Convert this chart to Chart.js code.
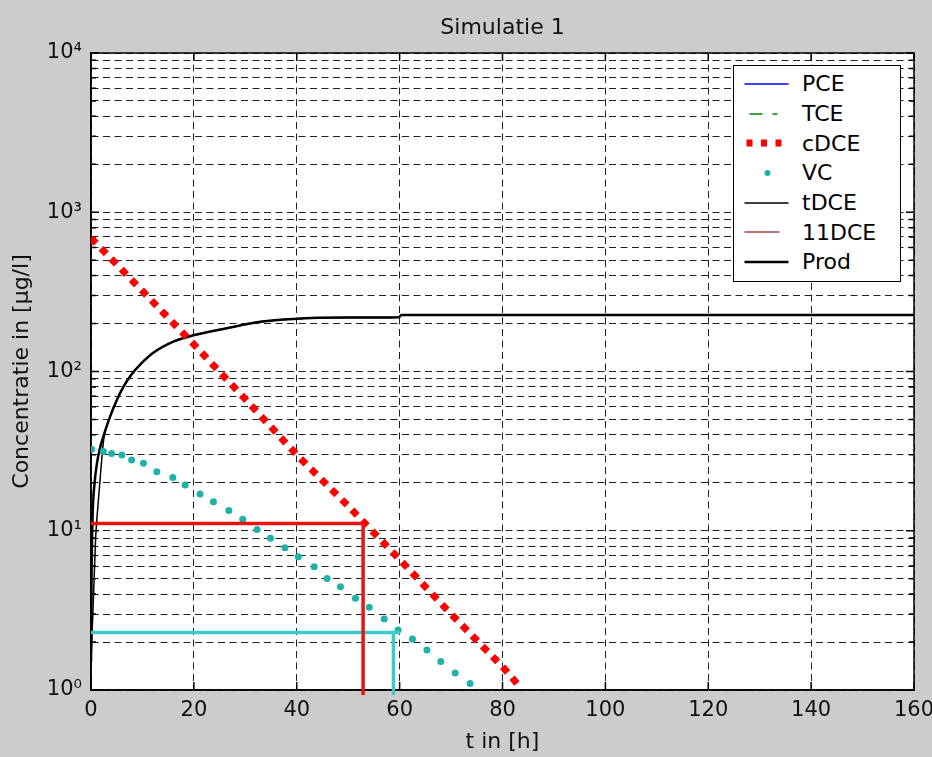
<!DOCTYPE html>
<html lang="nl">
<head>
<meta charset="UTF-8">
<title>Simulatie 1</title>
<script src="https://cdn.jsdelivr.net/npm/chart.js"></script>
<style>
  body { margin: 0; background: #cccccc; }
  .wrap { position: relative; width: 932px; height: 757px; }
  #legend {
    position: absolute; left: 733px; top: 65px; width: 166px; height: 212px;
    background: #fff; border: 1.5px solid #000; padding-top: 3px;
    font-family: 'DejaVu Sans', sans-serif; font-size: 22px; color: #000;
  }
  .row { height: 29.7px; display: flex; align-items: center; }
  .row svg { margin-left: 10px; width: 46px; height: 12px; flex: none; }
  .row span { margin-left: 12px; }
</style>
</head>
<body>
<div class="wrap">
  <canvas id="sim" width="932" height="757"></canvas>
  <div id="legend"></div>
</div>
<script>
  const FONT = "'DejaVu Sans', sans-serif";

  // cDCE (rode stippellijn)
  const cdceTime = [0, 10, 20, 30, 40, 50, 60, 70, 80, 83];
  const cdceConc = [690, 320, 148, 67, 30, 14.3, 6.6, 3.0, 1.4, 1.08];

  // VC (cyaan punten)
  const vcTime = [0.1, 2.4, 4.0, 6.0, 7.9, 10.2, 12.8, 15.9, 18.3, 21.2, 23.8, 26.8, 29.5, 32.3, 34.9,
                  37.7, 40.3, 43.4, 45.9, 48.5, 51.4, 54.1, 57.0, 59.7, 62.5, 65.3, 68.0, 70.8, 73.7];
  const vcConc = [32.5, 31.4, 30.6, 29.9, 27.8, 26.5, 23.5, 21.6, 19.4, 17.0, 15.2, 13.4, 11.8, 10.2, 8.96,
                  7.83, 6.87, 5.95, 5.02, 4.45, 3.77, 3.31, 2.79, 2.38, 2.09, 1.78, 1.51, 1.28, 1.10];

  // Prod en tDCE (zwart)
  const prodTime = [0, 0.1, 0.3, 0.7, 1.2, 1.75, 2.5, 3.6, 5, 6.3, 7.9, 9.5, 12.1, 16, 19.9, 26.4, 32.9, 39.3, 50, 59.9, 60.3, 100, 160];
  const prodConc = [1.5, 5, 12, 20, 27, 33, 40, 51, 66, 80, 96, 110, 131, 154, 169, 187, 205, 214, 218, 219, 226, 226, 226];
  const tdceTime = [0, 0.5, 0.9, 1.4, 2, 2.5, 3.6, 5, 6.3, 7.9, 9.5, 12.1, 16, 19.9, 26.4, 32.9, 39.3, 50, 59.9, 60.3, 100, 160];
  const tdceConc = [1.5, 4, 9, 15, 26, 38, 51, 66, 80, 96, 110, 131, 154, 169, 187, 205, 214, 218, 219, 226, 226, 226];

  // hulplijnen
  const redMarkTime = [0, 52.9, 52.9];
  const redMarkConc = [11.1, 11.1, 0.93];
  const cyanMarkTime = [0, 60.1, 58.8, 58.8];
  const cyanMarkConc = [2.3, 2.3, 2.3, 0.93];

  // assen
  const xTicks = [0, 20, 40, 60, 80, 100, 120, 140, 160];
  const decadeLabels = { 1: '10⁰', 10: '10¹', 100: '10²', 1000: '10³', 10000: '10⁴' };
  const yTickValues = [];
  [1, 10, 100, 1000].forEach(d => { for (let m = 1; m < 10; m++) yTickValues.push(d * m); });
  yTickValues.push(10000);

  const pts = (t, c) => t.map((v, i) => ({ x: v, y: c[i] }));

  const datasets = [
    { label: 'hulp rood', data: pts(redMarkTime, redMarkConc), borderColor: '#ee1111', borderWidth: 3.5,
      pointRadius: 0, clip: false, borderJoinStyle: 'bevel', order: 0 },
    { label: 'hulp cyaan', data: pts(cyanMarkTime, cyanMarkConc), borderColor: '#3cc8cc', borderWidth: 3.5,
      pointRadius: 0, clip: false, borderJoinStyle: 'bevel', order: 0 },
    { label: 'PCE', data: [], borderColor: '#0000ff', borderWidth: 1.5, pointRadius: 0, order: 5,
      sample: { from: 0.5, to: 44.5 } },
    { label: 'TCE', data: [], borderColor: '#008000', borderWidth: 1.5, pointRadius: 0, order: 5,
      sample: { from: 5.5, to: 33.5, dash: '13 10 5 100' } },
    { label: 'cDCE', data: pts(cdceTime, cdceConc), borderColor: '#ff0000', borderWidth: 7,
      borderDash: [7.5, 7], borderCapStyle: 'butt', pointRadius: 0, order: 2,
      sample: { from: 2.5, to: 38, dash: '6 8.5' } },
    { label: 'VC', data: pts(vcTime, vcConc), showLine: false, pointRadius: 3.5, pointBorderWidth: 0,
      pointBackgroundColor: '#20b2aa', borderColor: '#20b2aa', order: 1, sample: { dot: 23.5 } },
    { label: 'tDCE', data: pts(tdceTime, tdceConc), borderColor: '#000', borderWidth: 1.5, pointRadius: 0,
      cubicInterpolationMode: 'monotone', order: 4, sample: { from: 0.5, to: 44.5 } },
    { label: '11DCE', data: [], borderColor: '#a0463c', borderWidth: 1.5, pointRadius: 0, order: 5,
      sample: { from: 0.5, to: 35.5 } },
    { label: 'Prod', data: pts(prodTime, prodConc), borderColor: '#000', borderWidth: 2.5, pointRadius: 0,
      cubicInterpolationMode: 'monotone', order: 3, sample: { from: 0.5, to: 44.5 } }
  ];

  const framePlugin = {
    id: 'frame',
    beforeDraw(chart) {
      const { ctx, chartArea: a } = chart;
      ctx.save();
      ctx.fillStyle = '#cccccc';
      ctx.fillRect(0, 0, chart.width, chart.height);
      ctx.fillStyle = '#ffffff';
      ctx.fillRect(a.left, a.top, a.right - a.left, a.bottom - a.top);
      ctx.restore();
    },
    beforeDatasetsDraw(chart) {
      const { ctx, chartArea: a, scales: { x, y } } = chart;
      ctx.save();
      ctx.strokeStyle = '#000';
      ctx.lineWidth = 1.5;
      ctx.strokeRect(a.left, a.top, a.right - a.left, a.bottom - a.top);
      ctx.beginPath();
      // ticks naar binnen, zoals in matlab
      x.ticks.forEach(t => {
        const px = x.getPixelForValue(t.value);
        ctx.moveTo(px, a.bottom); ctx.lineTo(px, a.bottom - 8);
        ctx.moveTo(px, a.top); ctx.lineTo(px, a.top + 8);
      });
      y.ticks.forEach(t => {
        const py = y.getPixelForValue(t.value);
        const len = decadeLabels[t.value] ? 8 : 5;
        ctx.moveTo(a.left, py); ctx.lineTo(a.left + len, py);
        ctx.moveTo(a.right, py); ctx.lineTo(a.right - len, py);
      });
      ctx.stroke();
      ctx.restore();
    }
  };

  const chart = new Chart(document.getElementById('sim'), {
    type: 'line',
    data: { datasets },
    options: {
      responsive: false,
      animation: false,
      events: [],
      layout: { padding: { left: 0, right: 18, top: 0, bottom: 0 } },
      plugins: {
        legend: { display: false },
        tooltip: { enabled: false },
        title: {
          display: true, text: 'Simulatie 1', fullSize: false, color: '#111',
          font: { family: FONT, size: 22, weight: 'normal' },
          padding: { top: 15, bottom: 11.6 }
        }
      },
      scales: {
        x: {
          type: 'linear', min: 0, max: 160,
          afterBuildTicks: s => { s.ticks = xTicks.map(v => ({ value: v })); },
          afterFit: s => { s.height = 67; s.paddingLeft = 0; s.paddingRight = 0; },
          ticks: { color: '#111', padding: 8, maxRotation: 0, autoSkip: false,
                   font: { family: FONT, size: 21 } },
          grid: { color: '#222', lineWidth: 1, drawTicks: false },
          border: { color: '#000', width: 1.5, dash: [7, 4.5] },
          title: { display: true, text: 't in [h]', color: '#111',
                   font: { family: FONT, size: 22 }, padding: { top: 0, bottom: 2 } }
        },
        y: {
          type: 'logarithmic', min: 1, max: 10000,
          afterBuildTicks: s => { s.ticks = yTickValues.map(v => ({ value: v, major: !!decadeLabels[v] })); },
          afterFit: s => { s.width = 91; s.paddingTop = 0; s.paddingBottom = 0; },
          ticks: { color: '#111', padding: 9, autoSkip: false,
                   font: { family: FONT, size: 21 },
                   callback: v => decadeLabels[v] || '' },
          grid: { color: '#222', lineWidth: 1, drawTicks: false },
          border: { color: '#000', width: 1.5, dash: [7, 4.5] },
          title: { display: true, text: 'Concentratie in [µg/l]', color: '#111',
                   font: { family: FONT, size: 22 }, padding: { top: 9, bottom: 0 } }
        }
      }
    },
    plugins: [framePlugin]
  });

  // legenda in de grafiek, uit de datasets opgebouwd
  const legendBox = document.getElementById('legend');
  chart.data.datasets.filter(d => d.sample).forEach(d => {
    const s = d.sample;
    let mark;
    if (s.dot !== undefined) {
      mark = `<circle cx="${s.dot}" cy="6" r="3" fill="${d.pointBackgroundColor}"/>`;
    } else {
      mark = `<line x1="${s.from}" y1="6" x2="${s.to}" y2="6" stroke="${d.borderColor}"
              stroke-width="${d.borderWidth}" ${s.dash ? `stroke-dasharray="${s.dash}"` : ''}/>`;
    }
    const row = document.createElement('div');
    row.className = 'row';
    row.innerHTML = `<svg viewBox="0 0 46 12">${mark}</svg><span>${d.label}</span>`;
    legendBox.appendChild(row);
  });
</script>
</body>
</html>
